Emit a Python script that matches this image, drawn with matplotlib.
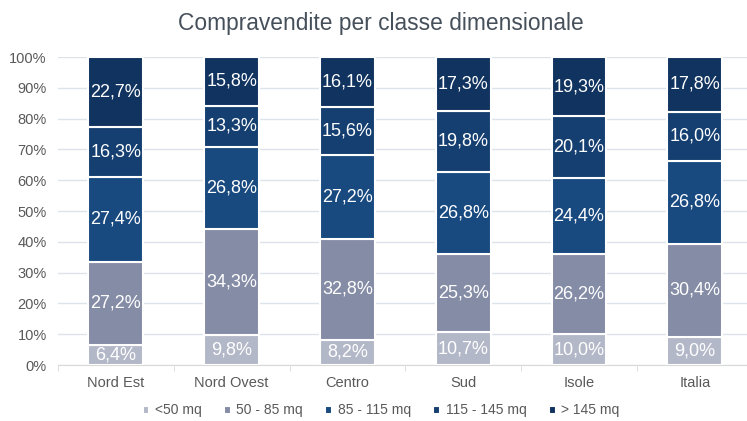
# coding = utf-8
import numpy as np
from matplotlib import pyplot as plt

plt.rcParams['font.family'] = ['Liberation Sans', 'DejaVu Sans']

regioni = ['Nord Est', 'Nord Ovest', 'Centro', 'Sud', 'Isole', 'Italia']
classi = ['<50 mq', '50 - 85 mq', '85 - 115 mq', '115 - 145 mq', '> 145 mq']

meno_50 = [6.4, 9.8, 8.2, 10.7, 10.0, 9.0]
da_50_85 = [27.2, 34.3, 32.8, 25.3, 26.2, 30.4]
da_85_115 = [27.4, 26.8, 27.2, 26.8, 24.4, 26.8]
da_115_145 = [16.3, 13.3, 15.6, 19.8, 20.1, 16.0]
oltre_145 = [22.7, 15.8, 16.1, 17.3, 19.3, 17.8]

colori = ['#B3B8C8', '#858CA6', '#18497F', '#153F70', '#10335F']
serie = [meno_50, da_50_85, da_85_115, da_115_145, oltre_145]

fig = plt.figure(figsize=(7.47, 4.21), dpi=100)
ax = fig.add_axes([0.0776, 0.133, 0.930, 0.7316])

x = np.arange(len(regioni))
base = np.zeros(len(regioni))
for valori, nome, col in zip(serie, classi, colori):
    valori = np.array(valori)
    bars = ax.bar(x, valori, 0.475, bottom=base, color=col, edgecolor='white',
                  linewidth=1.5, label=nome, zorder=3)
    for b, v, y0 in zip(bars, valori, base):
        ax.text(b.get_x() + b.get_width() / 2, y0 + v / 2,
                ('%.1f%%' % v).replace('.', ','), ha='center', va='center',
                color='white', fontsize=13, zorder=4)
    base = base + valori

ax.set_xlim(-0.5, len(regioni) - 0.5)
ax.set_ylim(0, 100)
ax.set_yticks(range(0, 101, 10))
ax.set_yticklabels(['%d%%' % t for t in range(0, 101, 10)])
ax.set_xticks(x)
ax.set_xticklabels(regioni)
ax.set_xticks(np.arange(-0.5, len(regioni), 1), minor=True)
ax.tick_params(axis='x', which='major', length=0, pad=8)
ax.tick_params(axis='x', which='minor', length=4, color='#D9D9D9')
ax.tick_params(axis='y', length=0, pad=8)
ax.tick_params(labelsize=10.5, labelcolor='#595959')
ax.grid(axis='y', color='#DDE3EA', linewidth=1, zorder=0)
for s in ['top', 'right', 'left']:
    ax.spines[s].set_visible(False)
ax.spines['bottom'].set_color('#D9D9D9')

fig.text(0.51, 0.945, 'Compravendite per classe dimensionale', ha='center',
         va='center', fontsize=16.4, color='#46505B')
fig.legend(loc='center', bbox_to_anchor=(0.51, 0.025), ncol=5, frameon=False,
           fontsize=10, labelcolor='#595959', handlelength=0.5, handleheight=0.5,
           handletextpad=0.4, columnspacing=1.6)

plt.savefig('out.png')
